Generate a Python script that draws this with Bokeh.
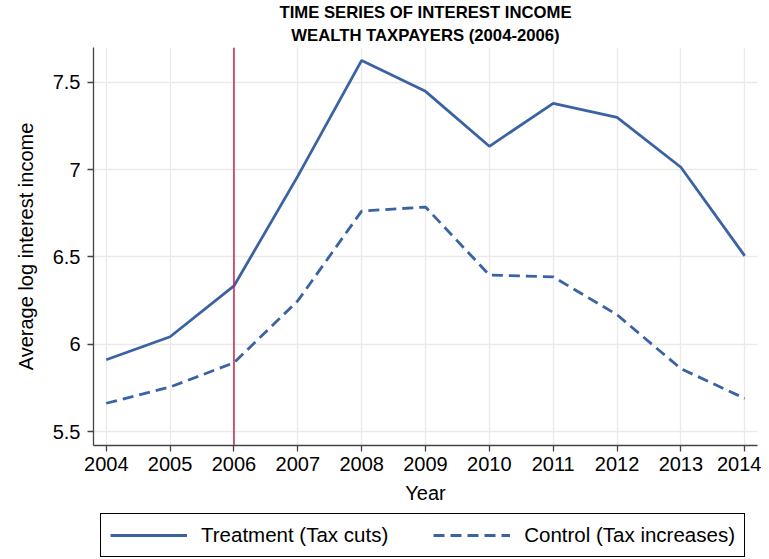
from bokeh.plotting import figure
from bokeh.layouts import column
from bokeh.models import Span, Legend, LegendItem, FixedTicker, Title, CustomJSTickFormatter, Range1d
from bokeh.embed import file_html
from bokeh.resources import INLINE

years = [2004, 2005, 2006, 2007, 2008, 2009, 2010, 2011, 2012, 2013, 2014]
treatment = [5.911, 6.043, 6.334, 6.963, 7.626, 7.449, 7.134, 7.380, 7.300, 7.014, 6.506]
control = [5.662, 5.755, 5.894, 6.249, 6.763, 6.786, 6.397, 6.386, 6.169, 5.860, 5.690]
y_ticks = [5.5, 6.0, 6.5, 7.0, 7.5]
policy_year = 2006
title_lines = ["TIME SERIES OF INTEREST INCOME", "WEALTH TAXPAYERS (2004-2006)"]
series_labels = ["Treatment (Tax cuts)", "Control (Tax increases)"]

FONT = "Liberation Sans"
LINE = "#3b62a3"
DASH = "11 6"
FS = "20px"

p = figure(width=761, height=510, x_range=(2003.8, 2014.2), y_range=(5.42, 7.7),
           output_backend="svg", toolbar_location=None,
           min_border_left=93, min_border_right=4, min_border_top=46, min_border_bottom=65)
p.outline_line_color = None
p.background_fill_color = "white"

p.add_layout(Title(text=title_lines[1], align="center", text_font=FONT, text_font_size="16.7px",
                   text_font_style="bold", text_color="black", standoff=5, offset=0,
                   text_line_height=0.85), "above")
p.add_layout(Title(text=title_lines[0], align="center", text_font=FONT, text_font_size="16.7px",
                   text_font_style="bold", text_color="black", standoff=0, offset=0,
                   text_line_height=0.85), "above")

p.xgrid.grid_line_color = "#eaeaea"
p.ygrid.grid_line_color = "#eaeaea"
p.xgrid.grid_line_width = 1.3
p.ygrid.grid_line_width = 1.3

p.xaxis.ticker = FixedTicker(ticks=years)
p.yaxis.ticker = FixedTicker(ticks=y_ticks)
p.yaxis.formatter = CustomJSTickFormatter(code="return (tick % 1 === 0) ? tick.toFixed(0) : tick.toFixed(1);")
p.xaxis.formatter = CustomJSTickFormatter(code="return tick.toFixed(0);")

for ax in (p.xaxis[0], p.yaxis[0]):
    ax.axis_line_color = "#444444"
    ax.axis_line_width = 1.3
    ax.major_tick_line_color = "#444444"
    ax.major_tick_line_width = 1.3
    ax.major_tick_out = 6
    ax.major_tick_in = 0
    ax.minor_tick_line_color = None
    ax.major_label_text_font = FONT
    ax.major_label_text_font_size = FS
    ax.major_label_text_color = "black"
    ax.axis_label_text_font = FONT
    ax.axis_label_text_font_size = FS
    ax.axis_label_text_font_style = "normal"
    ax.axis_label_text_color = "black"

p.xaxis.axis_label = "Year"
p.yaxis.axis_label = "Average log interest income"
p.xaxis.major_label_standoff = 5
p.xaxis.axis_label_standoff = 8
p.yaxis.major_label_standoff = 7
p.yaxis.axis_label_standoff = 13
p.yaxis.major_label_orientation = "horizontal"

p.add_layout(Span(location=policy_year, dimension="height", line_color="#c8204e", line_width=1.5))

p.line(years, treatment, line_color=LINE, line_width=2.8)
p.line(years, control, line_color=LINE, line_width=2.8, line_dash=DASH)

# legend in its own strip below the chart (dummy renderers sit outside the visible range)
lg = figure(width=761, height=48, x_range=Range1d(0, 1), y_range=Range1d(0, 1),
            output_backend="svg", toolbar_location=None,
            min_border_left=93, min_border_right=4, min_border_top=0, min_border_bottom=0)
lg.xaxis.visible = False
lg.yaxis.visible = False
lg.grid.visible = False
lg.outline_line_color = None
l1 = lg.line([5, 6], [5, 6], line_color=LINE, line_width=2.8)
l2 = lg.line([5, 6], [5, 6], line_color=LINE, line_width=2.8, line_dash=DASH)

legend = Legend(items=[LegendItem(label=series_labels[0], renderers=[l1]),
                       LegendItem(label=series_labels[1], renderers=[l2])],
                orientation="horizontal", location=(7, 1),
                label_text_font=FONT, label_text_font_size="20.5px", label_text_color="black",
                glyph_width=77, glyph_height=20, spacing=45, padding=9, margin=0,
                label_standoff=14, border_line_color="black", border_line_width=1.2,
                border_line_alpha=1.0)
lg.add_layout(legend, "center")

open("out.html", "w").write(file_html(column(p, lg, spacing=0), INLINE))
